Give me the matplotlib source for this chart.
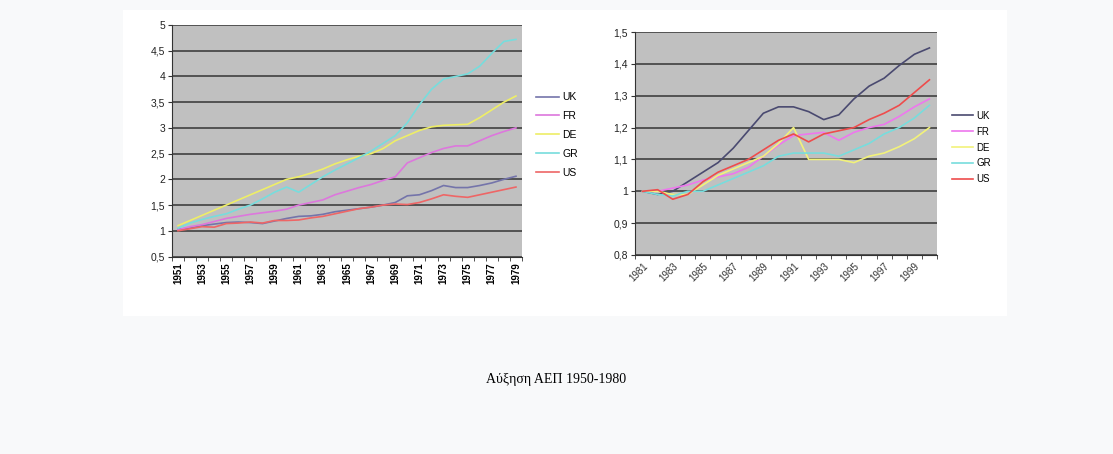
import matplotlib
matplotlib.use('Agg')
import matplotlib.pyplot as plt
from matplotlib.patches import Rectangle

plt.rcParams['font.family'] = ['Liberation Sans', 'DejaVu Sans']

# 1951-1979
years_a = list(range(1951, 1980))
uk_a = [1.03, 1.05, 1.10, 1.13, 1.16, 1.17, 1.16, 1.14, 1.19, 1.24,
        1.28, 1.29, 1.32, 1.37, 1.40, 1.43, 1.46, 1.50, 1.55, 1.68,
        1.70, 1.78, 1.88, 1.84, 1.84, 1.88, 1.93, 2.00, 2.06]
fr_a = [1.02, 1.08, 1.12, 1.18, 1.24, 1.28, 1.32, 1.35, 1.38, 1.42,
        1.50, 1.55, 1.60, 1.70, 1.77, 1.84, 1.90, 1.98, 2.05, 2.32,
        2.42, 2.52, 2.60, 2.65, 2.65, 2.75, 2.85, 2.93, 3.00]
de_a = [1.10, 1.20, 1.30, 1.40, 1.50, 1.60, 1.70, 1.80, 1.90, 2.00,
        2.05, 2.12, 2.20, 2.30, 2.38, 2.45, 2.50, 2.60, 2.75, 2.85,
        2.95, 3.02, 3.05, 3.06, 3.07, 3.20, 3.35, 3.50, 3.62]
gr_a = [1.05, 1.15, 1.22, 1.28, 1.33, 1.42, 1.50, 1.62, 1.75, 1.85,
        1.75, 1.90, 2.05, 2.18, 2.30, 2.42, 2.55, 2.70, 2.85, 3.10,
        3.45, 3.75, 3.95, 4.00, 4.05, 4.20, 4.45, 4.68, 4.72]
us_a = [1.00, 1.04, 1.08, 1.07, 1.14, 1.15, 1.17, 1.15, 1.20, 1.20,
        1.21, 1.25, 1.28, 1.33, 1.38, 1.43, 1.46, 1.50, 1.52, 1.51,
        1.55, 1.62, 1.70, 1.67, 1.65, 1.70, 1.75, 1.80, 1.85]

# 1981-2000
years_b = list(range(1981, 2001))
uk_b = [1.00, 0.99, 1.00, 1.03, 1.06, 1.09, 1.135, 1.19, 1.245, 1.265,
        1.265, 1.25, 1.225, 1.24, 1.29, 1.33, 1.355, 1.395, 1.43, 1.45]
fr_b = [1.00, 1.00, 1.01, 1.02, 1.035, 1.045, 1.055, 1.075, 1.11, 1.145,
        1.175, 1.18, 1.185, 1.16, 1.185, 1.20, 1.21, 1.235, 1.265, 1.29]
de_b = [1.00, 1.00, 0.99, 0.99, 1.02, 1.05, 1.07, 1.09, 1.11, 1.15,
        1.20, 1.10, 1.10, 1.10, 1.09, 1.11, 1.12, 1.14, 1.165, 1.20]
gr_b = [1.00, 0.99, 0.985, 1.00, 1.00, 1.02, 1.04, 1.06, 1.08, 1.11,
        1.12, 1.12, 1.12, 1.11, 1.13, 1.15, 1.18, 1.20, 1.23, 1.27]
us_b = [1.00, 1.005, 0.975, 0.99, 1.03, 1.06, 1.08, 1.10, 1.13, 1.16,
        1.18, 1.155, 1.18, 1.19, 1.20, 1.225, 1.245, 1.27, 1.31, 1.35]

names = ['UK', 'FR', 'DE', 'GR', 'US']
colors_a = ['#7474aa', '#dd77dd', '#eeee66', '#77dddd', '#ee6666']
colors_b = ['#4a4a70', '#ee77ee', '#f2f27a', '#77dddd', '#ee4c4c']

fig = plt.figure(figsize=(11.13, 4.54), dpi=100)
fig.patch.set_facecolor('#f8f9fa')
fig.add_artist(Rectangle((123 / 1113, 1 - 316 / 454), 884 / 1113, 306 / 454,
                         transform=fig.transFigure, facecolor='white',
                         edgecolor='none', zorder=0))


def style_axes(ax, n, labels, rot, yticks, ylabels):
    ax.set_facecolor('#c0c0c0')
    ax.set_xlim(-0.5, n - 0.5)
    ax.set_ylim(yticks[0], yticks[-1])
    ax.set_yticks(yticks)
    ax.set_yticklabels(ylabels, fontsize=7.5, color='#222222')
    ax.set_xticks(range(0, n, 2))
    if rot == 90:
        ax.set_xticklabels(labels[::2], rotation=90, fontsize=7, fontweight='bold')
    else:
        ax.set_xticklabels(labels[::2], rotation=45, ha='right', fontsize=7,
                           rotation_mode='anchor', color='#333333')
    ax.tick_params(axis='x', length=0, pad=4)
    ax.set_xticks([i - 0.5 for i in range(n + 1)], minor=True)
    ax.tick_params(axis='x', which='minor', length=3, color='#333333')
    ax.tick_params(axis='y', length=3, color='#333333', pad=2)
    ax.grid(axis='y', color='#4a4a4a', linewidth=1.3)
    ax.set_axisbelow(True)
    for s in ['top', 'right']:
        ax.spines[s].set_visible(False)
    for s in ['left', 'bottom']:
        ax.spines[s].set_color('#333333')
        ax.spines[s].set_linewidth(0.8)


ax1 = fig.add_axes([172 / 1113, 1 - 256.5 / 454, 350 / 1113, 231.5 / 454])
series_a = [uk_a, fr_a, de_a, gr_a, us_a]
xa = list(range(len(years_a)))
lines_a = []
for name, vals, c in zip(names, series_a, colors_a):
    ln, = ax1.plot(xa, vals, color=c, linewidth=1.2, label=name)
    lines_a.append(ln)
yt_a = [0.5, 1, 1.5, 2, 2.5, 3, 3.5, 4, 4.5, 5]
style_axes(ax1, len(years_a), [str(y) for y in years_a], 90,
           yt_a, [('%g' % v).replace('.', ',') for v in yt_a])
fig.legend(handles=lines_a, loc='upper left', bbox_to_anchor=(532 / 1113, 1 - 88 / 454),
           frameon=False, fontsize=7.5, handlelength=2.2, handletextpad=0.3,
           labelspacing=0.85, borderaxespad=0)

ax2 = fig.add_axes([635 / 1113, 1 - 255 / 454, 302 / 1113, 223 / 454])
series_b = [uk_b, fr_b, de_b, gr_b, us_b]
xb = list(range(len(years_b)))
lines_b = []
for name, vals, c in zip(names, series_b, colors_b):
    ln, = ax2.plot(xb, vals, color=c, linewidth=1.2, label=name)
    lines_b.append(ln)
yt_b = [0.8, 0.9, 1.0, 1.1, 1.2, 1.3, 1.4, 1.5]
style_axes(ax2, len(years_b), [str(y) for y in years_b], 45,
           yt_b, [('%g' % v).replace('.', ',') for v in yt_b])
fig.legend(handles=lines_b, loc='upper left', bbox_to_anchor=(948 / 1113, 1 - 107 / 454),
           frameon=False, fontsize=7, handlelength=2.2, handletextpad=0.3,
           labelspacing=0.6, borderaxespad=0)

fig.text(0.5, 1 - 380 / 454, 'Αύξηση ΑΕΠ 1950-1980', ha='center', va='center',
         fontsize=10, family=['Liberation Serif', 'DejaVu Serif'])

fig.savefig('out.png', dpi=100, facecolor=fig.get_facecolor())
